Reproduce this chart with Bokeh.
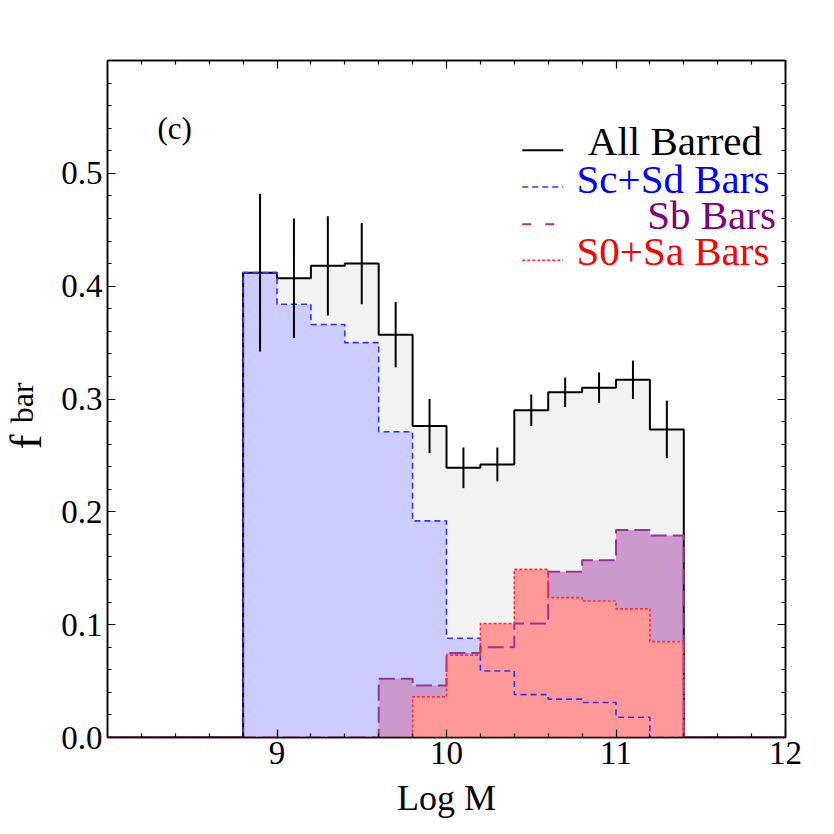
import numpy as np
from bokeh.plotting import figure
from bokeh.models import FixedTicker, LinearAxis, Range1d, Label, PrintfTickFormatter, CustomJSTickFormatter
from bokeh.embed import file_html
from bokeh.resources import INLINE

# ---------------- data ----------------
bin_edges = [8.8, 9.0, 9.2, 9.4, 9.6, 9.8, 10.0, 10.2, 10.4, 10.6, 10.8, 11.0, 11.2, 11.4]
all_barred = [0.412, 0.407, 0.418, 0.420, 0.357, 0.276, 0.239, 0.242, 0.290, 0.306, 0.310, 0.317, 0.273]
all_err = [0.070, 0.053, 0.044, 0.036, 0.029, 0.024, 0.018, 0.015, 0.014, 0.013, 0.0135, 0.017, 0.0255]
scsd_bars = [0.412, 0.384, 0.366, 0.350, 0.271, 0.192, 0.088, 0.059, 0.038, 0.034, 0.031, 0.018, 0.0]
sb_bars = [0.0, 0.0, 0.0, 0.0, 0.052, 0.046, 0.075, 0.080, 0.101, 0.147, 0.157, 0.184, 0.179]
s0sa_bars = [0.0, 0.0, 0.0, 0.0, 0.0, 0.036, 0.073, 0.101, 0.149, 0.124, 0.121, 0.114, 0.085]

x_lim = (8.0, 12.0)
y_lim = (0.0, 0.6)
x_ticks = [9, 10, 11, 12]
x_minor = [8.2, 8.4, 8.6, 8.8, 9.2, 9.4, 9.6, 9.8, 10.2, 10.4, 10.6, 10.8, 11.2, 11.4, 11.6, 11.8]
y_ticks = [0.0, 0.1, 0.2, 0.3, 0.4, 0.5]
y_minor = [0.02, 0.04, 0.06, 0.08, 0.12, 0.14, 0.16, 0.18, 0.22, 0.24, 0.26, 0.28,
           0.32, 0.34, 0.36, 0.38, 0.42, 0.44, 0.46, 0.48, 0.52, 0.54, 0.56, 0.58]

legend_labels = ["All Barred", "Sc+Sd Bars", "Sb Bars", "S0+Sa Bars"]
legend_text_colors = ["black", "#0000ff", "#800080", "#ff0000"]

FONT = "Liberation Serif"

# ---------------- figure ----------------
p = figure(frame_width=678, frame_height=677,
           x_range=Range1d(*x_lim), y_range=Range1d(*y_lim),
           output_backend="svg", toolbar_location=None,
           min_border_left=107, min_border_top=60, min_border_right=30, min_border_bottom=90,
           background_fill_color="white", border_fill_color="white")
p.grid.visible = False
p.outline_line_color = "black"
p.outline_line_width = 1.5

xt = FixedTicker(ticks=x_ticks, minor_ticks=x_minor)
yt = FixedTicker(ticks=y_ticks, minor_ticks=y_minor)


def style_axis(ax):
    ax.axis_line_color = "black"
    ax.axis_line_width = 1.5
    ax.major_tick_in = 8
    ax.major_tick_out = 0
    ax.minor_tick_in = 4
    ax.minor_tick_out = 0
    ax.major_tick_line_color = "black"
    ax.minor_tick_line_color = "black"
    ax.major_tick_line_width = 1.2
    ax.minor_tick_line_width = 1.2
    ax.major_label_text_font = FONT
    ax.major_label_text_color = "black"
    ax.major_label_text_font_size = "33px"


xa = p.xaxis[0]
xa.ticker = xt
style_axis(xa)
xa.major_label_standoff = 4
xa.axis_label = "Log M"
xa.axis_label_text_font = FONT
xa.axis_label_text_font_size = "36px"
xa.axis_label_text_font_style = "normal"
xa.axis_label_standoff = 11
xa.axis_label_text_color = "black"

ya = p.yaxis[0]
ya.ticker = yt
ya.formatter = PrintfTickFormatter(format="%.1f")
style_axis(ya)
ya.major_label_standoff = 5

blank = CustomJSTickFormatter(code="return ''")
top = LinearAxis(ticker=xt, formatter=blank)
style_axis(top)
top.major_label_standoff = 0
p.add_layout(top, "above")
right = LinearAxis(ticker=yt, formatter=blank)
style_axis(right)
right.major_label_standoff = 0
p.add_layout(right, "right")

# ---------------- helpers ----------------
def fill_poly(edges, vals):
    px = [edges[0]]
    py = [0.0]
    for i, v in enumerate(vals):
        px += [edges[i], edges[i + 1]]
        py += [v, v]
    px += [edges[-1]]
    py += [0.0]
    return px, py


def step_xy(edges, vals):
    xs = [x_lim[0]] + list(edges) + [x_lim[1]]
    ys = [0.0] + list(vals) + [0.0, 0.0]
    return xs, ys


# fills
for vals, col in [(all_barred, "#f2f2f2"), (scsd_bars, "#ccccff"),
                  (sb_bars, "#cc99cc"), (s0sa_bars, "#ff9999")]:
    px, py = fill_poly(bin_edges, vals)
    p.patch(px, py, fill_color=col, line_color=None)

# outlines
styles = [
    (all_barred, "black", "solid", 2.0),
    (scsd_bars, "#3333ff", "6 4", 1.6),
    (sb_bars, "#993399", "16 6", 2.0),
    (s0sa_bars, "#ff3333", "3 2", 1.6),
]
for vals, col, dash, w in styles:
    xs, ys = step_xy(bin_edges, vals)
    p.step(xs, ys, mode="after", line_color=col, line_dash=dash, line_width=w)

# error bars
centers = [(bin_edges[i] + bin_edges[i + 1]) / 2 for i in range(len(all_barred))]
lo = [v - e for v, e in zip(all_barred, all_err)]
hi = [v + e for v, e in zip(all_barred, all_err)]
p.segment(x0=centers, y0=lo, x1=centers, y1=hi, line_color="black", line_width=2)

# ---------------- legend (manual) ----------------
leg_x0, leg_x1 = 10.447, 10.689
leg_line_y = [0.5204, 0.4879, 0.4548, 0.4229]
leg_text_y = [0.5285, 0.4954, 0.4629, 0.431]
leg_text_x = [10.834, 10.767, 11.184, 10.767]
leg_styles = [("black", "solid", 2.0), ("#3333ff", "6 4", 1.6),
              ("#993399", "9 14", 2.0), ("#ff3333", "3 2", 1.6)]
for i, (col, dash, w) in enumerate(leg_styles):
    p.line([leg_x0, leg_x1], [leg_line_y[i], leg_line_y[i]], line_color=col,
           line_dash=dash, line_width=w)
    p.add_layout(Label(x=leg_text_x[i], y=leg_text_y[i], text=legend_labels[i],
                       text_font=FONT, text_font_size="41px",
                       text_color=legend_text_colors[i],
                       text_align="left", text_baseline="alphabetic"))

# panel tag
p.add_layout(Label(x=8.295, y=0.540, text="(c)", text_font=FONT, text_font_size="31px",
                   text_color="black", text_align="left", text_baseline="alphabetic"))

# y-axis label: f with "bar" (held in side panels so they are not clipped;
# positioned in data units left of the frame)
p.add_layout(Label(x=7.522, y=0.262, text="f", angle=np.pi / 2, text_font=FONT,
                   text_font_size="44px", text_color="black",
                   text_align="center", text_baseline="alphabetic"), "left")
p.add_layout(Label(x=7.495, y=0.2786, text="bar", angle=np.pi / 2, text_font=FONT,
                   text_font_size="32px", text_color="black",
                   text_align="left", text_baseline="alphabetic"), "right")

open("out.html", "w").write(file_html(p, INLINE))
